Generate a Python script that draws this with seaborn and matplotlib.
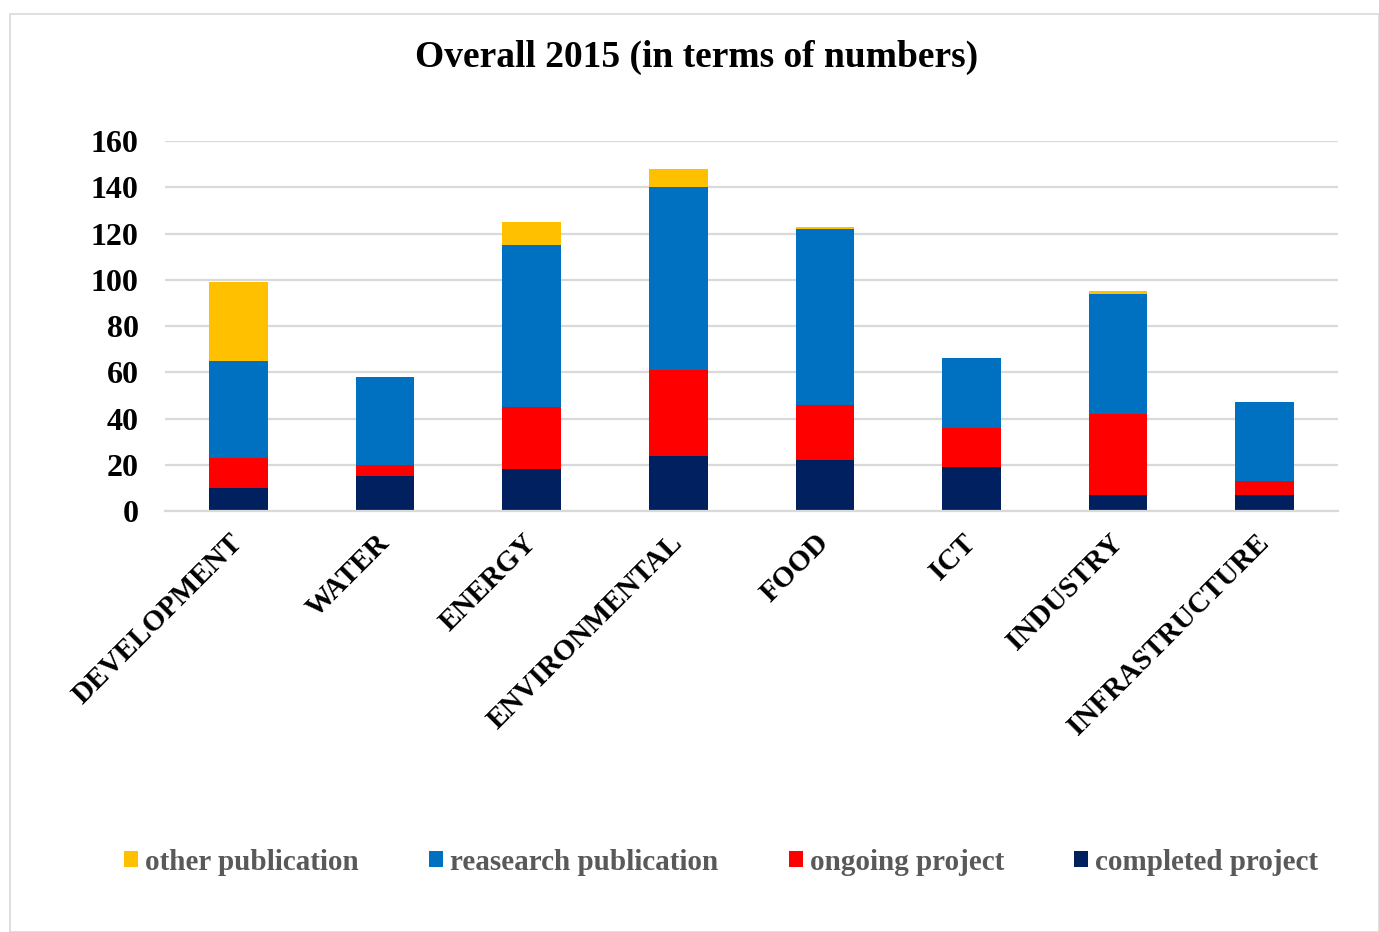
import numpy as np
import pandas as pd
import matplotlib
matplotlib.use("Agg")
import matplotlib.pyplot as plt
from matplotlib.patches import Patch, Rectangle
import seaborn as sns

categories = ["DEVELOPMENT", "WATER", "ENERGY", "ENVIRONMENTAL",
              "FOOD", "ICT", "INDUSTRY", "INFRASTRUCTURE"]
completed_project = [10, 15, 18, 24, 22, 19, 7, 7]
ongoing_project = [13, 5, 27, 37, 24, 17, 35, 6]
research_publication = [42, 38, 70, 79, 76, 30, 52, 34]
other_publication = [34, 0, 10, 8, 1, 0, 1, 0]

series_names = ["completed project", "ongoing project",
                "reasearch publication", "other publication"]
colors = {"completed project": "#002060",
          "ongoing project": "#FF0000",
          "reasearch publication": "#0070C0",
          "other publication": "#FFC000"}

sns.set_theme(style="white")
plt.rcParams["font.family"] = ["Liberation Serif", "DejaVu Serif"]
plt.rcParams["font.weight"] = "bold"

df = pd.DataFrame({
  "category": categories,
  "completed project": completed_project,
  "ongoing project": ongoing_project,
  "reasearch publication": research_publication,
  "other publication": other_publication,
})
# cumulative heights for stacking (drawn top layer first)
cum = df[series_names].cumsum(axis=1)

fig = plt.figure(figsize=(13.79, 9.32), dpi=100)
ax = fig.add_axes([0.1197, 0.4517, 0.8506, 0.3970])

for name in reversed(series_names):
  sns.barplot(x=df["category"], y=cum[name], color=colors[name],
              saturation=1, width=0.4, linewidth=0, ax=ax)

ax.set_ylim(0, 160)
ax.set_xlim(-0.5, 7.5)
ax.set_yticks(np.arange(0, 161, 20))
ax.yaxis.grid(True, color="#d9d9d9", linewidth=1.6)
ax.set_axisbelow(True)
for side in ["left", "right", "top"]:
  ax.spines[side].set_visible(False)
ax.spines["bottom"].set_color("#d9d9d9")
ax.spines["bottom"].set_linewidth(1.6)
ax.set_xlabel("")
ax.set_ylabel("")
ax.tick_params(axis="y", labelsize=23, pad=19, length=0, labelcolor="black")
ax.tick_params(axis="x", labelsize=21, pad=20, length=0, labelcolor="black")
for lbl in ax.get_yticklabels():
  lbl.set_fontweight("bold")
for lbl in ax.get_xticklabels():
  lbl.set_fontweight("bold")
  lbl.set_rotation(45)
  lbl.set_ha("right")
  lbl.set_va("center")
  lbl.set_rotation_mode("anchor")

fig.text(0.505, 0.938, "Overall 2015 (in terms of numbers)", ha="center",
         va="center", fontsize=27, fontweight="bold", color="black")

handles = [Patch(facecolor=colors[n], edgecolor="none", label=n)
           for n in reversed(series_names)]
leg = fig.legend(handles=handles, loc="center", bbox_to_anchor=(0.523, 0.075),
                 ncol=4, frameon=False, fontsize=21, handlelength=0.48,
                 handleheight=0.48, handletextpad=0.25, columnspacing=2.4)
for t in leg.get_texts():
  t.set_color("#595959")
  t.set_fontweight("bold")

fig.patches.append(Rectangle((10 / 1379, 0), 1 - 10 / 1379, 1 - 14 / 932,
                             transform=fig.transFigure, fill=False,
                             edgecolor="#d9d9d9", linewidth=1.2))

fig.savefig("out.png", dpi=100)
